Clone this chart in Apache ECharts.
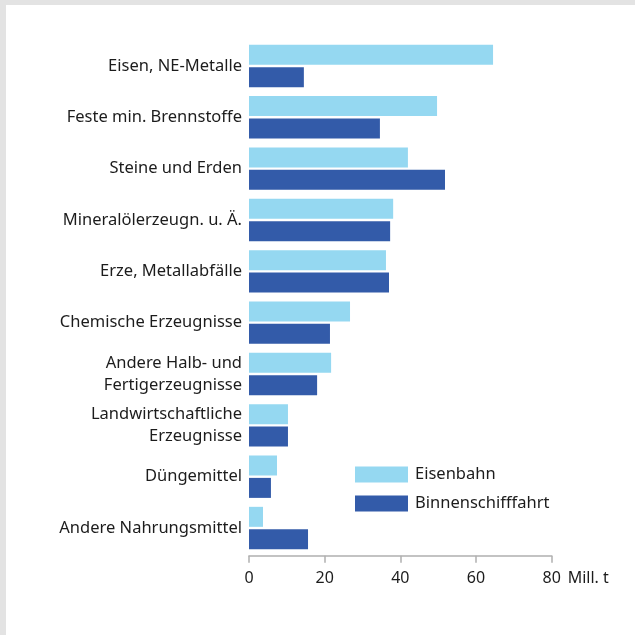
<!DOCTYPE html>
<html>
<head>
<meta charset="utf-8">
<script src="https://cdn.jsdelivr.net/npm/echarts@6/dist/echarts.min.js"></script>
<style>
html,body{margin:0;padding:0;background:#e3e3e3;width:635px;height:635px;overflow:hidden;}
#bg{position:absolute;left:6px;top:5px;right:0;bottom:0;background:#fff;}
#chart{position:absolute;left:0;top:0;width:635px;height:635px;}
</style>
</head>
<body>
<div id="bg"></div>
<div id="chart"></div>
<script>
const categories = [
  "Eisen, NE-Metalle",
  "Feste min. Brennstoffe",
  "Steine und Erden",
  "Mineralölerzeugn. u. Ä.",
  "Erze, Metallabfälle",
  "Chemische Erzeugnisse",
  "Andere Halb- und\nFertigerzeugnisse",
  "Landwirtschaftliche\nErzeugnisse",
  "Düngemittel",
  "Andere Nahrungsmittel"
];
const eisenbahn = [64.5, 49.7, 42.0, 38.1, 36.2, 26.7, 21.7, 10.3, 7.4, 3.7];
const binnenschifffahrt = [14.5, 34.6, 51.8, 37.3, 37.0, 21.4, 18.0, 10.3, 5.8, 15.6];
const xTicks = [0, 20, 40, 60, 80];
const unitLabel = "Mill. t";

const FONT = "'Noto Sans', sans-serif";
const TXT = '#1c1c1c';
const chart = echarts.init(document.getElementById('chart'), null, {renderer: 'canvas'});
chart.setOption({
  backgroundColor: 'transparent',
  animation: false,
  grid: {left: 249, right: 83.3, top: 40.3, bottom: 81.3, containLabel: false},
  legend: {
    orient: 'vertical',
    left: 355, top: 466, padding: 0,
    itemWidth: 53, itemHeight: 16, itemGap: 12,
    icon: 'rect',
    textStyle: {fontFamily: FONT, fontSize: 16.5, color: TXT, padding: [0, 0, 0, 2]},
    data: ['Eisenbahn', 'Binnenschifffahrt']
  },
  xAxis: {
    type: 'value',
    min: xTicks[0], max: xTicks[xTicks.length - 1], interval: 20,
    offset: 2,
    splitLine: {show: false},
    axisLine: {show: true, lineStyle: {color: '#b0b0b0', width: 1.5}},
    axisTick: {show: true, length: 7, lineStyle: {color: '#b0b0b0', width: 1.5}},
    axisLabel: {fontFamily: FONT, fontSize: 16, color: TXT, margin: 15}
  },
  yAxis: {
    type: 'category',
    inverse: true,
    data: categories,
    axisLine: {show: false},
    axisTick: {show: false},
    axisLabel: {fontFamily: FONT, fontSize: 16.5, color: TXT, margin: 7, lineHeight: 22, align: 'right', padding: [4, 0, 0, 0]}
  },
  series: [
    {name: 'Eisenbahn', type: 'bar', data: eisenbahn, barWidth: 20, barGap: '12%',
     itemStyle: {color: '#95d8f1'}},
    {name: 'Binnenschifffahrt', type: 'bar', data: binnenschifffahrt, barWidth: 20, barGap: '12%',
     itemStyle: {color: '#335ba9'}}
  ]
});
// unit label next to the last tick label, on the tick-label line
const endPt = chart.convertToPixel({xAxisIndex: 0}, xTicks[xTicks.length - 1]);
chart.setOption({
  graphic: [{
    type: 'text',
    x: endPt + 16,
    y: 578,
    style: {text: unitLabel, fontFamily: FONT, fontSize: 16, fill: TXT, verticalAlign: 'middle', align: 'left'}
  }]
});
</script>
</body>
</html>
